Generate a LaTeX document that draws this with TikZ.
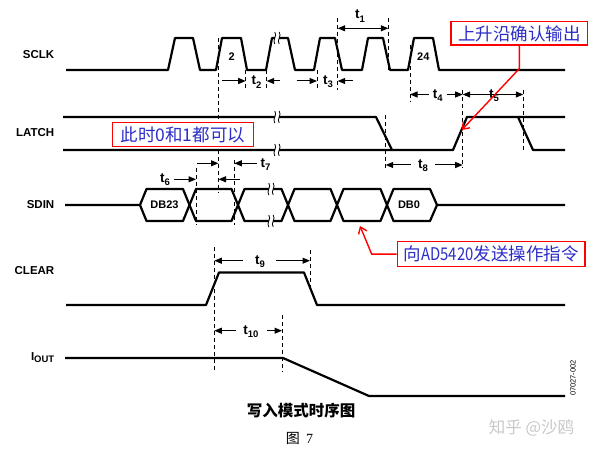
\documentclass[tikz,border=0pt]{standalone}
\usepackage{fontspec}
\setmainfont{Liberation Sans}
\newfontfamily\cjk{Noto Sans CJK SC}
\newfontfamily\serifx{Liberation Serif}
\usetikzlibrary{arrows.meta}
\definecolor{annblue}{RGB}{45,45,200}
\definecolor{wmgray}{RGB}{200,200,200}
\newcommand{\tsub}[1]{t\raisebox{-0.45ex}{\fontsize{9.5}{10}\selectfont #1}}
\begin{document}
\begin{tikzpicture}[x=1pt,y=-1pt,
  sig/.style={line width=2.2pt, line join=round},
  dsh/.style={line width=0.7pt, dash pattern=on 4pt off 3pt},
  tarr/.style={line width=1pt, -{Triangle[length=7.5pt,width=6pt]}},
  tarrb/.style={line width=1pt, {Triangle[length=7.5pt,width=6pt]}-{Triangle[length=7.5pt,width=6pt]}},
  lab/.style={font=\fontsize{11.5}{13}\selectfont\bfseries, anchor=east, inner sep=0pt},
  tl/.style={font=\fontsize{13.5}{15}\selectfont\bfseries, inner sep=0pt},
  small/.style={font=\fontsize{11}{13}\selectfont\bfseries, inner sep=0pt},
  rbox/.style={draw=red, line width=1.2pt, fill=white, text=annblue, inner sep=0pt,
    font=\cjk\fontsize{17.5}{20}\selectfont},
  redarr/.style={red, line width=1.4pt, -{Straight Barb[length=6pt,width=9pt]}},
  brk/.pic={\fill[white] (-2.2,-7) rectangle (2.2,7);
    \foreach \d in {-2.2,2.2} \draw[line width=0.8pt] (\d,-6) .. controls ({\d+3},-2) and ({\d-3},2) .. (\d,6);}
]
\useasboundingbox (0,0) rectangle (594,454);

% signal names
\node[lab] (nsclk) at (54.5,55) {SCLK};
\node[lab] (nlatch) at (54.5,133) {LATCH};
\node[lab] (nsdin) at (54.5,205) {SDIN};
\node[lab] (nclear) at (54.5,271) {CLEAR};
\node[lab] (niout) at (54.5,358) {I\raisebox{-0.35ex}{\fontsize{9.5}{10}\selectfont OUT}};

% SCLK
\draw[sig] (66,70) -- (168,70) -- (175,38) -- (193,38) -- (200,70) -- (216,70) -- (222,38) -- (241,38) -- (247,70)
  -- (266,70) -- (272,38) -- (288,38) -- (295,70) -- (314,70) -- (320,38) -- (335,38) -- (342,70)
  -- (362,70) -- (368,38) -- (383,38) -- (390,70) -- (408,70) -- (414,38) -- (433,38) -- (439,70) -- (565,70);
\node[small] (p2) at (231.7,57) {2};
\node[small] (p24) at (423.3,57) {24};

% LATCH
\draw[sig] (63,117) -- (376,117) -- (392,150);
\draw[sig] (63,150) -- (453,150) -- (467,117) -- (565,117);
\draw[sig] (518,117) -- (533,150) -- (565,150);

% SDIN
\draw[sig] (65,205) -- (140,205) -- (146.5,189) -- (183,189) -- (196,221) -- (231.5,221) -- (244.5,189) -- (281.5,189)
  -- (294.5,221) -- (330.5,221) -- (343.5,189) -- (380.5,189) -- (393.5,221) -- (430,221) -- (437,205) -- (565,205);
\draw[sig] (140,205) -- (146.5,221) -- (183,221) -- (196,189) -- (231.5,189) -- (244.5,221) -- (281.5,221)
  -- (294.5,189) -- (330.5,189) -- (343.5,221) -- (380.5,221) -- (393.5,189) -- (430,189) -- (437,205);
\node[small] (db23) at (164.5,205) {DB23};
\node[small] (db0) at (409,205) {DB0};

% CLEAR
\draw[sig] (66,305) -- (206,305) -- (219,272.5) -- (304,272.5) -- (317,305) -- (565,305);

% IOUT
\draw[sig] (65,358) -- (283,358) -- (369,396) -- (565,396);

% break marks
\pic at (277,38) {brk};
\pic at (277,117) {brk};
\pic at (277,150) {brk};
\pic at (271,189) {brk};
\pic at (271,221) {brk};

% dashed guides
\draw[dsh] (218.5,38) -- (218.5,193);
\draw[dsh] (245.7,70) -- (245.7,90);
\draw[dsh] (266.7,70) -- (266.7,90);
\draw[dsh] (317,70) -- (317,90);
\draw[dsh] (337.7,18) -- (337.7,90);
\draw[dsh] (388.3,18) -- (388.3,70);
\draw[dsh] (410,45) -- (410,102);
\draw[dsh] (462.7,90) -- (462.7,168);
\draw[dsh] (523.3,90) -- (523.3,150);
\draw[dsh] (385.7,115) -- (385.7,168);
\draw[dsh] (196,168) -- (196,225);
\draw[dsh] (234.3,160) -- (234.3,225);
\draw[dsh] (214.3,247) -- (214.3,372);
\draw[dsh] (310,250) -- (310,290);
\draw[dsh] (282,315) -- (282,372);

% timing arrows
\draw[tarrb] (337.7,28.3) -- (388.3,28.3);
\node[tl] (t1) at (360,16) {\tsub{1}};
\draw[tarr] (222,81) -- (245.7,81);
\draw[tarr] (280,81) -- (266.7,81);
\node[tl] (t2) at (256.5,82) {\tsub{2}};
\draw[tarr] (296.7,81) -- (317,81);
\draw[tarr] (353,81) -- (337.7,81);
\node[tl] (t3) at (328,82) {\tsub{3}};
\draw[tarr] (429,94.5) -- (410,94.5);
\draw[tarr] (447,94.5) -- (462.7,94.5);
\node[tl] (t4) at (437.7,95.5) {\tsub{4}};
\draw[tarrb] (462.7,94.5) -- (523.3,94.5);
\node[tl] (t5) at (494,96) {\tsub{5}};
\draw[tarr] (174,179.3) -- (196,179.3);
\draw[tarr] (240,179.3) -- (218.5,179.3);
\node[tl] (t6) at (165,179.5) {\tsub{6}};
\draw[tarr] (197,163.3) -- (218.5,163.3);
\draw[tarr] (256.7,163.3) -- (234.3,163.3);
\node[tl] (t7) at (265.5,164.5) {\tsub{7}};
\draw[tarr] (411,165) -- (385.7,165);
\draw[tarr] (435,165) -- (462.7,165);
\node[tl] (t8) at (423,166) {\tsub{8}};
\draw[tarr] (243,260.7) -- (214.3,260.7);
\draw[tarr] (276,260.7) -- (310,260.7);
\node[tl] (t9) at (260,261.5) {\tsub{9}};
\draw[tarr] (236,330.7) -- (214.3,330.7);
\draw[tarr] (267,330.7) -- (282,330.7);
\node[tl] (t10) at (251,331.5) {\tsub{10}};

% annotations
\node[rbox, minimum width=141pt, minimum height=24.4pt] (b0) at (182.8,134.5) {此时0和1都可以};
\node[rbox, minimum width=136.7pt, minimum height=23.3pt] (b1) at (519.35,33.35) {上升沿确认输出};
\node[rbox, minimum width=187.7pt, minimum height=25pt] (b2) at (491.15,254.2) {向\scalebox{0.85}[1]{AD5420}发送操作指令};
\coordinate (a1) at (461.7,130);
\coordinate (a2) at (360,226);
\draw[redarr] (b1.south) -- ++(0,23) -- (a1);
\draw[redarr] (b2.west) -- ++(-25,0) -- (a2);

% side code
\node[rotate=90, font=\fontsize{7.5}{8}\selectfont, inner sep=0pt] (code) at (573,378) {07027-002};

% captions
\node[font=\cjk\bfseries\fontsize{15.5}{18}\selectfont, inner sep=0pt] (cap) at (301,411) {写入模式时序图};
\node[font=\cjk\fontsize{14}{16}\selectfont, inner sep=0pt] (fig) at (299.5,438) {图\ \ \serifx 7};
\node[font=\cjk\fontsize{16.5}{18}\selectfont, text=wmgray, inner sep=0pt] (wm) at (531.5,428) {知乎 @沙鸥};
\end{tikzpicture}
\end{document}
